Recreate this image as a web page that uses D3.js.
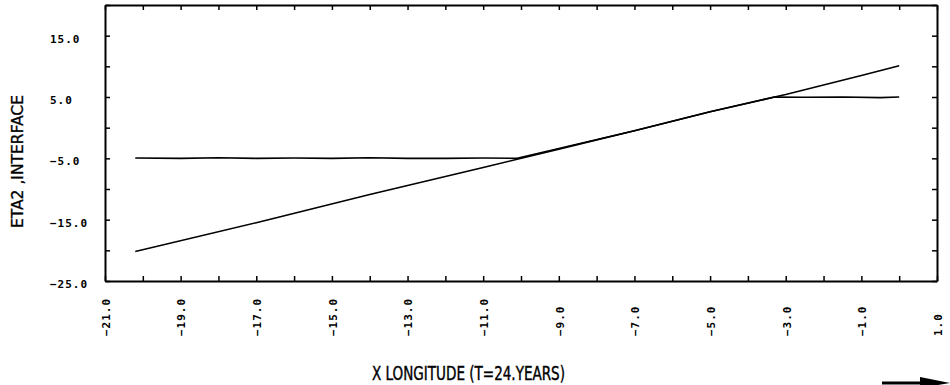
<!DOCTYPE html>
<html>
<head>
<meta charset="utf-8">
<script src="https://cdn.jsdelivr.net/npm/d3@7"></script>
<style>
  body { margin: 0; background: #fff; }
  svg { display: block; }
</style>
</head>
<body>
<div id="chart"></div>
<script>
// values
const diagX = [-20.2, -17, -14, -11, -9, -7, -5, -3, -1, 0]
const diagY = [-20.2, -15.5, -10.9, -6.5, -3.5, -0.5, 2.6, 5.4, 8.5, 10.1]

const capX = [-20.2, -19, -18, -17, -16, -15, -14, -13, -12, -11, -10.1, -9, -7, -5, -3.3, -2.5, -1.5, -0.5, 0]
const capY = [-4.95, -5.0, -4.9, -5.0, -4.95, -5.0, -4.9, -5.0, -5.0, -4.95, -5.0, -3.4, -0.5, 2.6, 5.0, 4.95, 5.0, 4.9, 5.0]

const xTicks = d3.range(-21, 2, 1)
const xLabels = d3.range(-21, 2, 2)
const yTicks = d3.range(-25, 21, 5)
const yLabels = [-25, -15, -5, 5, 15]

const width = 950, height = 385
const margin = { left: 105, right: 13, top: 5, bottom: 104 }

const svg = d3.select('#chart').append('svg')
  .attr('width', width)
  .attr('height', height)

const x = d3.scaleLinear().domain([-21, 1]).range([margin.left, width - margin.right])
const y = d3.scaleLinear().domain([-25, 20]).range([height - margin.bottom, margin.top])

const tickFont = '"DejaVu Sans Mono", monospace'
const titleFont = '"DejaVu Sans Condensed", "Liberation Sans", sans-serif'

// frame with inward ticks on all four sides
function styleAxis(g) {
  g.selectAll('.domain').attr('stroke', '#000').attr('stroke-width', 2)
  g.selectAll('.tick line').attr('stroke', '#000').attr('stroke-width', 1.5)
  g.selectAll('.tick text').remove()
}

svg.append('g')
  .attr('transform', `translate(0,${y(-25)})`)
  .call(d3.axisBottom(x).tickValues(xTicks).tickSize(-5).tickSizeOuter(0))
  .call(styleAxis)
svg.append('g')
  .attr('transform', `translate(0,${y(20)})`)
  .call(d3.axisTop(x).tickValues(xTicks).tickSize(-5).tickSizeOuter(0))
  .call(styleAxis)
svg.append('g')
  .attr('transform', `translate(${x(-21)},0)`)
  .call(d3.axisLeft(y).tickValues(yTicks).tickSize(-5).tickSizeOuter(0))
  .call(styleAxis)
svg.append('g')
  .attr('transform', `translate(${x(1)},0)`)
  .call(d3.axisRight(y).tickValues(yTicks).tickSize(-5).tickSizeOuter(0))
  .call(styleAxis)

// tick labels
const fmt = d3.format('.1f')

svg.append('g').selectAll('text')
  .data(xLabels)
  .enter()
  .append('text')
  .attr('transform', d => `translate(${x(d) + 1},336) rotate(-90)`)
  .attr('dy', '0.35em')
  .attr('text-anchor', 'start')
  .attr('font-family', tickFont)
  .attr('font-weight', 'bold')
  .attr('font-size', '11px')
  .attr('letter-spacing', '1px')
  .attr('fill', '#000')
  .text(d => fmt(d))

svg.append('g').selectAll('text')
  .data(yLabels)
  .enter()
  .append('text')
  .attr('x', 50)
  .attr('y', d => y(d) + 3)
  .attr('dy', '0.35em')
  .attr('text-anchor', 'start')
  .attr('font-family', tickFont)
  .attr('font-weight', 'bold')
  .attr('font-size', '11px')
  .attr('letter-spacing', '1px')
  .attr('fill', '#000')
  .text(d => fmt(d))

// axis titles, squeezed to the plotter's narrow lettering
svg.append('text')
  .attr('x', 372)
  .attr('y', 380)
  .attr('textLength', 193)
  .attr('lengthAdjust', 'spacingAndGlyphs')
  .attr('font-family', titleFont)
  .attr('font-size', '19px')
  .attr('stroke', '#000')
  .attr('stroke-width', 0.4)
  .attr('fill', '#000')
  .text('X LONGITUDE   (T=24.YEARS)')

svg.append('text')
  .attr('transform', 'translate(23,228) rotate(-90)')
  .attr('textLength', 133)
  .attr('lengthAdjust', 'spacingAndGlyphs')
  .attr('font-family', titleFont)
  .attr('font-size', '15px')
  .attr('stroke', '#000')
  .attr('stroke-width', 0.3)
  .attr('fill', '#000')
  .text('ETA2 ,INTERFACE')

// curves
const line = d3.line().x(d => x(d[0])).y(d => y(d[1]))

svg.append('path')
  .datum(d3.zip(capX, capY))
  .attr('fill', 'none')
  .attr('stroke', '#000')
  .attr('stroke-width', 1.6)
  .attr('d', line)

svg.append('path')
  .datum(d3.zip(diagX, diagY))
  .attr('fill', 'none')
  .attr('stroke', '#000')
  .attr('stroke-width', 1.6)
  .attr('d', line)

// page-turn arrow at the bottom right
svg.append('line')
  .attr('x1', 882).attr('y1', 383).attr('x2', 925).attr('y2', 383)
  .attr('stroke', '#000').attr('stroke-width', 3)
svg.append('path')
  .attr('d', 'M920,377 L950,383 L920,388 Z')
  .attr('fill', '#000')
</script>
</body>
</html>
